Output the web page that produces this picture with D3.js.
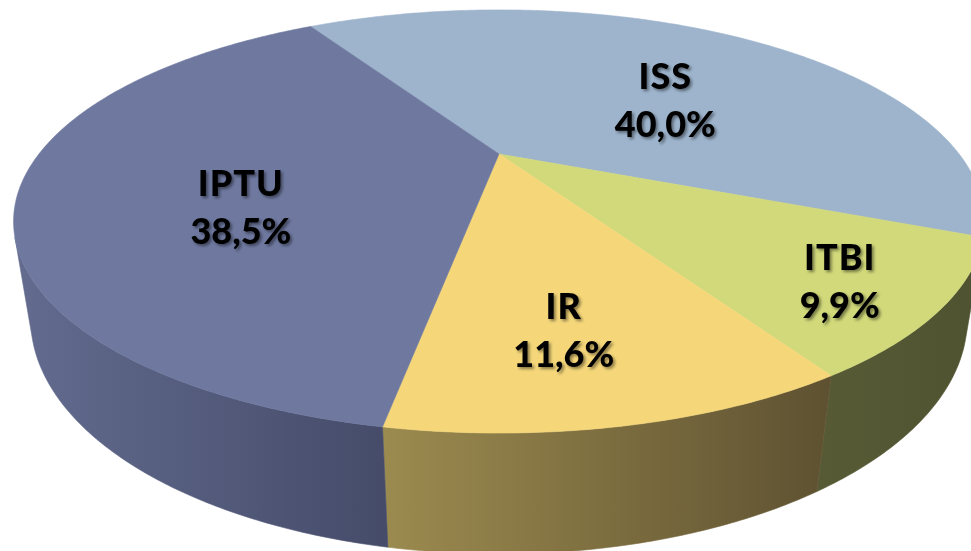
<!DOCTYPE html>
<html>
<head>
<meta charset="utf-8">
<script src="https://cdn.jsdelivr.net/npm/d3@7"></script>
<style>
  body { margin: 0; background: #fff; }
  svg { display: block; }
</style>
</head>
<body>
<div id="chart"></div>
<script>
// data
var categories = ["ISS", "ITBI", "IR", "IPTU"];
var shares = [40.0, 9.9, 11.6, 38.5];
var shareLabels = ["40,0%", "9,9%", "11,6%", "38,5%"];

// colours
var topColors = ["#9DB4CC", "#D1D97A", "#F5D77A", "#6F79A0"];
var sideLeft = ["#7D90A4", "#575B35", "#9C8B4F", "#636C8F"];
var sideRight = ["#6B7C8E", "#4F5230", "#5E5131", "#454B69"];

// label placement (radius on the disc + pixel nudge)
var labelR = [0.55, 0.8, 0.72, 0.575];
var labelNudge = [[21, 16], [5, 9], [-16, 2], [11, 32]];

var svgWidth = 971;
var svgHeight = 551;

// perspective camera looking down on a unit disc
var cam = {x0: 499, y0: 154, F: 1314, L: 2.856, beta: 24.4 * Math.PI / 180, h: 0.228};

function proj(a, r, bottom) {
  var u = r * Math.sin(a),
      v = -r * Math.cos(a),
      z = bottom ? -cam.h : 0;
  var sb = Math.sin(cam.beta), cb = Math.cos(cam.beta);
  var depth = cam.L - v * cb - z * sb;
  return [cam.x0 + cam.F * u / depth, cam.y0 + cam.F * (v * sb - z * cb) / depth];
}

function arcPoints(a0, a1, bottom) {
  var n = Math.max(2, Math.ceil(Math.abs(a1 - a0) / (Math.PI / 360)));
  return d3.range(n + 1).map(function(i) {
    return proj(a0 + (a1 - a0) * i / n, 1, bottom);
  });
}

var svg = d3.select("#chart").append("svg")
            .attr("width", svgWidth)
            .attr("height", svgHeight);

var defs = svg.append("defs");
var shadow = defs.append("filter")
                 .attr("id", "shadow")
                 .attr("x", "-20%").attr("y", "-20%")
                 .attr("width", "140%").attr("height", "140%");
shadow.append("feDropShadow")
      .attr("dx", 2).attr("dy", 2)
      .attr("stdDeviation", 1.5)
      .attr("flood-color", "#000")
      .attr("flood-opacity", 0.45);

var start = -31.4 * Math.PI / 180;
var pie = d3.pie()
            .sort(null)
            .value(function(d) { return d; })
            .startAngle(start)
            .endAngle(start + 2 * Math.PI);

var arcs = pie(shares);

// visible part of the cylinder wall
var sil0 = Math.acos(-1 / (cam.L * Math.cos(cam.beta)));
var sil1 = 2 * Math.PI - sil0;

var line = d3.line();

// walls
arcs.forEach(function(d, i) {
  var b0 = Math.max(d.startAngle, sil0),
      b1 = Math.min(d.endAngle, sil1);
  if (b1 <= b0) return;
  var top = arcPoints(b0, b1, false);
  var bot = arcPoints(b0, b1, true).reverse();
  var pts = top.concat(bot);
  var xs = d3.extent(pts, function(p) { return p[0]; });

  var grad = defs.append("linearGradient")
                 .attr("id", "side" + i)
                 .attr("gradientUnits", "userSpaceOnUse")
                 .attr("x1", xs[0]).attr("x2", xs[1])
                 .attr("y1", 0).attr("y2", 0);
  grad.append("stop").attr("offset", 0).attr("stop-color", sideLeft[i]);
  grad.append("stop").attr("offset", 1).attr("stop-color", sideRight[i]);

  svg.append("path")
     .attr("d", line(pts) + "Z")
     .attr("fill", "url(#side" + i + ")")
     .attr("stroke", "url(#side" + i + ")")
     .attr("stroke-width", 0.6);
});

// top faces
svg.selectAll("path.top")
   .data(arcs)
   .enter()
   .append("path")
   .attr("class", "top")
   .attr("d", function(d) {
     var pts = [proj(0, 0, false)].concat(arcPoints(d.startAngle, d.endAngle, false));
     return line(pts) + "Z";
   })
   .attr("fill", function(d, i) { return topColors[i]; })
   .attr("stroke", function(d, i) { return topColors[i]; })
   .attr("stroke-width", 0.6);

// labels
var labels = svg.selectAll("g.label")
                .data(arcs)
                .enter()
                .append("g")
                .attr("class", "label")
                .attr("filter", "url(#shadow)")
                .attr("transform", function(d, i) {
                  var mid = (d.startAngle + d.endAngle) / 2;
                  var p = proj(mid, labelR[i], false);
                  return "translate(" + (p[0] + labelNudge[i][0]) + "," + (p[1] + labelNudge[i][1]) + ")";
                });

labels.append("text")
      .attr("y", -11)
      .attr("letter-spacing", "1px")
      .text(function(d, i) { return categories[i]; });
labels.append("text")
      .attr("y", 37)
      .text(function(d, i) { return shareLabels[i]; });

labels.selectAll("text")
      .attr("text-anchor", "middle")
      .attr("font-family", "Lato, 'Open Sans', sans-serif")
      .attr("font-weight", 900)
      .attr("font-size", "36px")
      .attr("fill", "#000");
</script>
</body>
</html>
